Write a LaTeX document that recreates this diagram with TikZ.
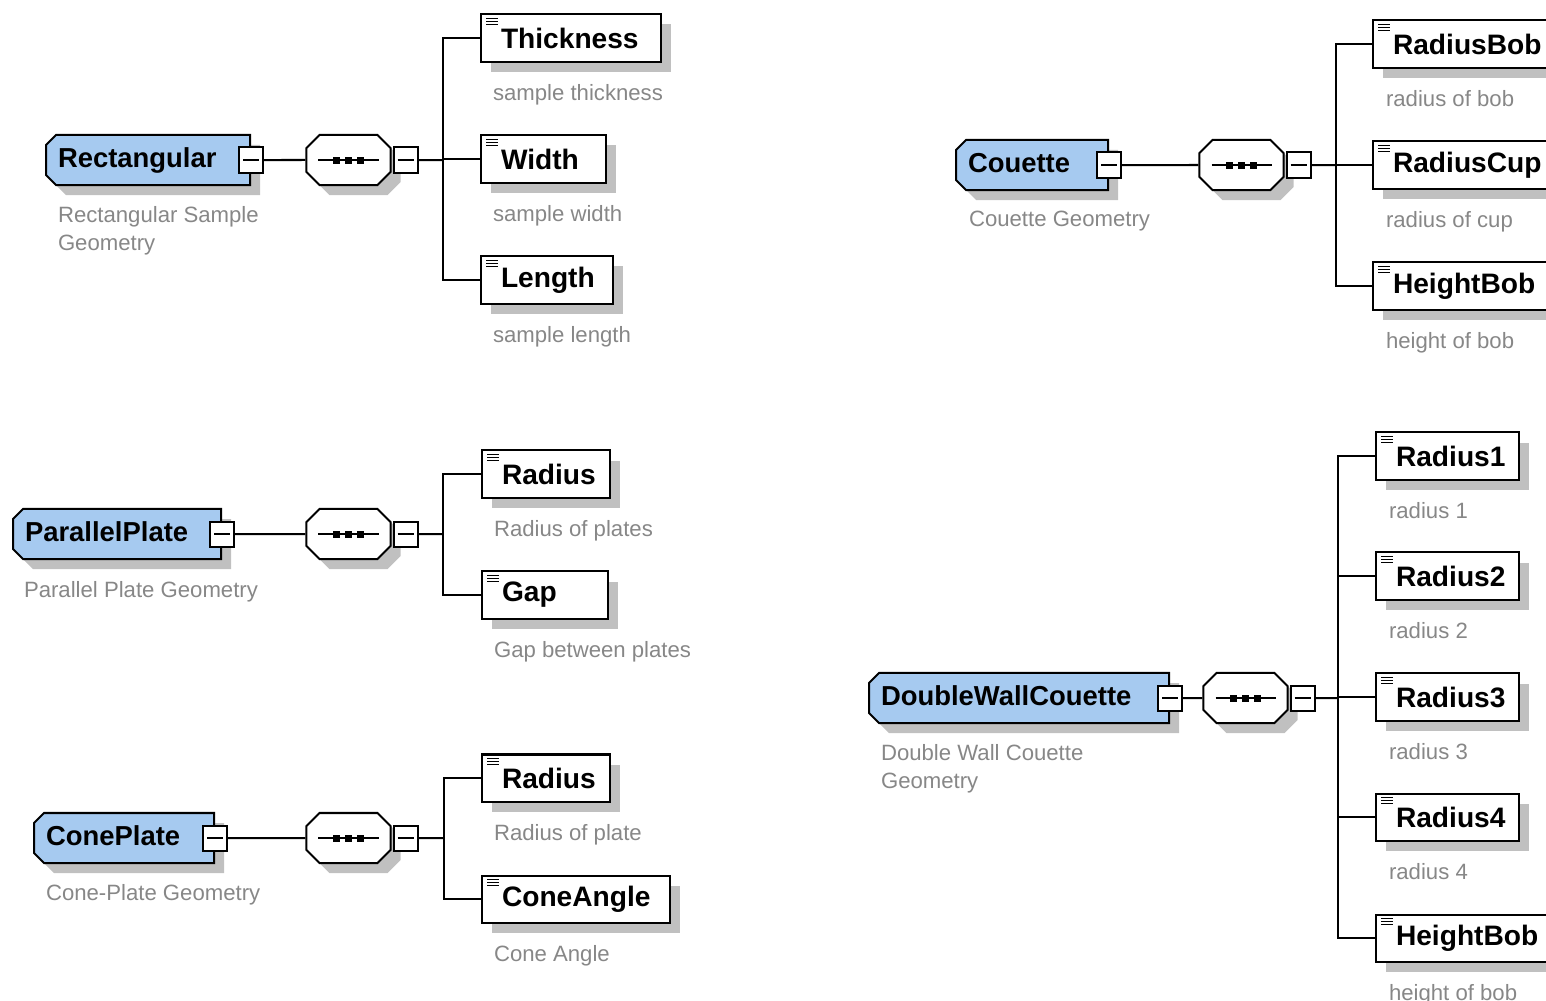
\documentclass[tikz,border=0pt]{standalone}
\usepackage{fontspec}
\setmainfont{Liberation Sans}
\usetikzlibrary{shapes.misc,shadows,positioning}

\definecolor{elemblue}{RGB}{166,202,240}
\definecolor{descgray}{RGB}{135,135,135}
\definecolor{shadowgray}{RGB}{192,192,192}

\tikzset{
  boxshadow/.style={drop shadow={shadow xshift=0.1cm,shadow yshift=-0.1cm,
      fill=shadowgray,opacity=1}},
  elem/.style={chamfered rectangle,chamfered rectangle corners={north west,south west},
      chamfered rectangle xsep=0.05cm,chamfered rectangle ysep=0.05cm,
      draw,fill=elemblue,boxshadow,anchor=west,
      text width=#1,align=left,inner xsep=0.07cm,inner ysep=0.07cm,
      text height=0.2cm,text depth=0.06cm,
      font=\bfseries\fontsize{7.8pt}{9pt}\selectfont},
  seq/.style={chamfered rectangle,chamfered rectangle xsep=0.065cm,
      chamfered rectangle ysep=0.065cm,draw,fill=white,boxshadow,
      text width=0.71cm,text height=0.37cm,text depth=0pt,inner sep=0pt,
      path picture={
        \draw[line width=0.015cm] ([xshift=-0.3cm]path picture bounding box.center)
          -- ([xshift=0.3cm]path picture bounding box.center);
        \foreach \d in {-0.12,0,0.12}
          \fill[black] ([xshift=\d cm]path picture bounding box.center)
            +(-0.035cm,-0.035cm) rectangle +(0.035cm,0.035cm);}},
  minus/.style={draw,fill=white,minimum width=0.24cm,minimum height=0.25cm,inner sep=0pt,
      path picture={\draw[line width=0.015cm] ([xshift=0.04cm]path picture bounding box.west)
        -- ([xshift=-0.04cm]path picture bounding box.east);}},
  field/.style={draw,fill=white,boxshadow,anchor=west,text width=#1,align=left,
      inner xsep=0.2cm,inner ysep=0pt,minimum height=0.47cm,
      font=\bfseries\fontsize{8pt}{9pt}\selectfont,
      path picture={\foreach \k in {0,1,2}
        \draw[line width=0.018cm] ([xshift=0.05cm,yshift=-0.04cm-0.03cm*\k]path picture bounding box.north west)
          -- ++(0.12cm,0);}},
  desc/.style={text=descgray,inner sep=0pt,align=left,
      font=\fontsize{6.3pt}{8pt}\selectfont},
}

\begin{document}
\begin{tikzpicture}[x=0.01cm,y=-0.01cm,line width=0.02cm]
\useasboundingbox (0,0) rectangle (1546,1000);

% Rectangular
\node[elem=1.80cm] (rect) at (45,160) {Rectangular};
\node[minus] (rectm) at (rect.east) {};
\node[desc,below right=0.45cm and 0.12cm of rect.west] (rectd) {Rectangular Sample\\Geometry};
\node[seq] (rectseq) at (348.5,160) {};
\node[minus,right=0.01cm of rectseq] (rectseqm) {};
\coordinate (rectbus) at (443,160);
\node[field=1.40cm] (thick) at (480,38) {Thickness};
\node[desc,below right=0.21cm and 0.12cm of thick.south west] (thickd) {sample thickness};
\node[field=0.85cm] (width) at (480,159) {Width};
\node[desc,below right=0.21cm and 0.12cm of width.south west] (widthd) {sample width};
\node[field=0.92cm] (length) at (480,280) {Length};
\node[desc,below right=0.21cm and 0.12cm of length.south west] (lengthd) {sample length};
\draw (rectm) -- (rectseq) (rectseqm) -- (rectbus);
\foreach \k in {thick,width,length} \draw (rectbus) |- (\k.west);

% ParallelPlate
\node[elem=1.84cm] (para) at (12,534) {ParallelPlate};
\node[minus] (param) at (para.east) {};
\node[desc,below right=0.46cm and 0.11cm of para.west] (parad) {Parallel Plate Geometry};
\node[seq] (paraseq) at (348.5,534) {};
\node[minus,right=0.01cm of paraseq] (paraseqm) {};
\coordinate (parabus) at (443,534);
\node[field=0.88cm] (pradius) at (481,474) {Radius};
\node[desc,below right=0.21cm and 0.12cm of pradius.south west] (pradiusd) {Radius of plates};
\node[field=0.86cm] (gap) at (481,595) {Gap};
\node[desc,below right=0.21cm and 0.12cm of gap.south west] (gapd) {Gap between plates};
\draw (param) -- (paraseq) (paraseqm) -- (parabus);
\foreach \k in {pradius,gap} \draw (parabus) |- (\k.west);

% ConePlate
\node[elem=1.56cm] (cone) at (33,838) {ConePlate};
\node[minus] (conem) at (cone.east) {};
\node[desc,below right=0.45cm and 0.12cm of cone.west] (coned) {Cone-Plate Geometry};
\node[seq] (coneseq) at (348.5,838) {};
\node[minus,right=0.01cm of coneseq] (coneseqm) {};
\coordinate (conebus) at (444,838);
\node[field=0.88cm] (cradius) at (481,778) {Radius};
\node[desc,below right=0.21cm and 0.12cm of cradius.south west] (cradiusd) {Radius of plate};
\node[field=1.48cm] (angle) at (481,899) {ConeAngle};
\node[desc,below right=0.21cm and 0.12cm of angle.south west] (angled) {Cone Angle};
\draw (conem) -- (coneseq) (coneseqm) -- (conebus);
\foreach \k in {cradius,angle} \draw (conebus) |- (\k.west);

% Couette
\node[elem=1.28cm] (cou) at (955,165) {Couette};
\node[minus] (coum) at (cou.east) {};
\node[desc,below right=0.45cm and 0.13cm of cou.west] (coud) {Couette Geometry};
\node[seq] (couseq) at (1241.5,165) {};
\node[minus,right=0.01cm of couseq] (couseqm) {};
\coordinate (coubus) at (1336,165);
\node[field=1.42cm] (bob) at (1372,44) {RadiusBob};
\node[desc,below right=0.21cm and 0.13cm of bob.south west] (bobd) {radius of bob};
\node[field=1.46cm] (cup) at (1372,165) {RadiusCup};
\node[desc,below right=0.21cm and 0.13cm of cup.south west] (cupd) {radius of cup};
\node[field=1.40cm] (hbob) at (1372,286) {HeightBob};
\node[desc,below right=0.21cm and 0.13cm of hbob.south west] (hbobd) {height of bob};
\draw (coum) -- (couseq) (couseqm) -- (coubus);
\foreach \k in {bob,cup,hbob} \draw (coubus) |- (\k.west);

% DoubleWallCouette
\node[elem=2.76cm] (dwc) at (868,698) {DoubleWallCouette};
\node[minus] (dwcm) at (dwc.east) {};
\node[desc,below right=0.45cm and 0.12cm of dwc.west] (dwcd) {Double Wall Couette\\Geometry};
\node[seq] (dwcseq) at (1245.5,698) {};
\node[minus,right=0.01cm of dwcseq] (dwcseqm) {};
\coordinate (dwcbus) at (1338,698);
\foreach \n/\y in {1/456,2/576,3/697,4/817}{
  \node[field=1.03cm] (r\n) at (1375,\y) {Radius\n};
  \node[desc,below right=0.21cm and 0.13cm of r\n.south west] (r\n d) {radius \n};
}
\node[field=1.40cm] (dhbob) at (1375,938) {HeightBob};
\node[desc,below right=0.21cm and 0.13cm of dhbob.south west] (dhbobd) {height of bob};
\draw (dwcm) -- (dwcseq) (dwcseqm) -- (dwcbus);
\foreach \k in {r1,r2,r3,r4,dhbob} \draw (dwcbus) |- (\k.west);
\end{tikzpicture}
\end{document}
